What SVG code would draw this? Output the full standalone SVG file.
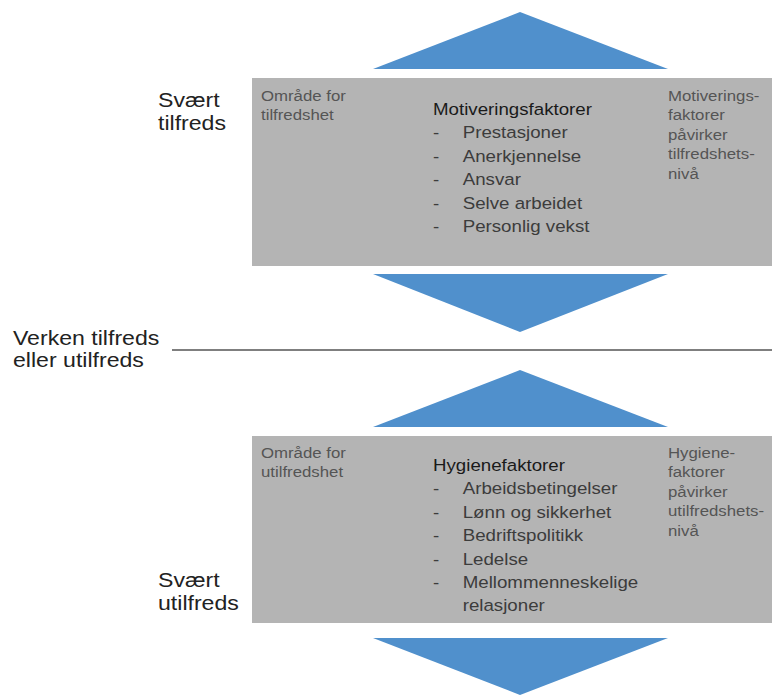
<svg xmlns="http://www.w3.org/2000/svg" width="772" height="695" viewBox="0 0 772 695">
  <style>
    text { font-family: "Liberation Sans", Arial, sans-serif; }
    .box { fill: #b4b4b4; }
    .arrow { fill: #5090cc; }
    .side { font-size: 21px; fill: #222; }
    .small { font-size: 15px; fill: #555; }
    .head { font-size: 17px; fill: #1a1a1a; }
    .item { font-size: 17px; fill: #3c3c3c; }
    .axis { stroke: #555; stroke-width: 1.5; fill: none; }
  </style>
  <rect width="772" height="695" fill="#ffffff"/>

  <g id="arrows">
    <polygon class="arrow" points="520,12 668,69 373,69"/>
    <polygon class="arrow" points="373,274 668,274 520,332"/>
    <polygon class="arrow" points="520,370 668,427 373,427"/>
    <polygon class="arrow" points="373,638 668,638 520,695"/>
  </g>

  <g id="connectors">
    <line class="axis" x1="172" y1="350" x2="772" y2="350"/>
  </g>

  <g id="label-svaert-tilfreds">
    <g transform="translate(158 107) scale(1.1 1)">
      <text class="side" x="0" y="0">Svært</text>
      <text class="side" x="0" y="23">tilfreds</text>
    </g>
  </g>

  <g id="label-verken">
    <g transform="translate(13 345) scale(1.1 1)">
      <text class="side" x="0" y="0">Verken tilfreds</text>
      <text class="side" x="0" y="22">eller utilfreds</text>
    </g>
  </g>

  <g id="label-svaert-utilfreds">
    <g transform="translate(158 587) scale(1.1 1)">
      <text class="side" x="0" y="0">Svært</text>
      <text class="side" x="0" y="23">utilfreds</text>
    </g>
  </g>

  <g id="box-motivering">
    <rect class="box" x="252" y="78" width="520" height="188"/>
    <g transform="translate(261 101) scale(1.12 1)">
      <text class="small" x="0" y="0">Område for</text>
      <text class="small" x="0" y="19">tilfredshet</text>
    </g>
    <g transform="translate(433 115) scale(1.1 1)">
      <text class="head" x="0" y="0">Motiveringsfaktorer</text>
      <text class="item" x="0" y="23.4">-</text><text class="item" x="27" y="23.4">Prestasjoner</text>
      <text class="item" x="0" y="46.8">-</text><text class="item" x="27" y="46.8">Anerkjennelse</text>
      <text class="item" x="0" y="70.2">-</text><text class="item" x="27" y="70.2">Ansvar</text>
      <text class="item" x="0" y="93.6">-</text><text class="item" x="27" y="93.6">Selve arbeidet</text>
      <text class="item" x="0" y="117">-</text><text class="item" x="27" y="117">Personlig vekst</text>
    </g>
    <g transform="translate(668 101) scale(1.12 1)">
      <text class="small" x="0" y="0">Motiverings-</text>
      <text class="small" x="0" y="19.5">faktorer</text>
      <text class="small" x="0" y="39">påvirker</text>
      <text class="small" x="0" y="58.5">tilfredshets-</text>
      <text class="small" x="0" y="78">nivå</text>
    </g>
  </g>

  <g id="box-hygiene">
    <rect class="box" x="252" y="436" width="520" height="187"/>
    <g transform="translate(261 458) scale(1.12 1)">
      <text class="small" x="0" y="0">Område for</text>
      <text class="small" x="0" y="19">utilfredshet</text>
    </g>
    <g transform="translate(433 471) scale(1.1 1)">
      <text class="head" x="0" y="0">Hygienefaktorer</text>
      <text class="item" x="0" y="23.4">-</text><text class="item" x="27" y="23.4">Arbeidsbetingelser</text>
      <text class="item" x="0" y="46.8">-</text><text class="item" x="27" y="46.8">Lønn og sikkerhet</text>
      <text class="item" x="0" y="70.2">-</text><text class="item" x="27" y="70.2">Bedriftspolitikk</text>
      <text class="item" x="0" y="93.6">-</text><text class="item" x="27" y="93.6">Ledelse</text>
      <text class="item" x="0" y="117">-</text><text class="item" x="27" y="117">Mellommenneskelige</text>
      <text class="item" x="27" y="140.4">relasjoner</text>
    </g>
    <g transform="translate(668 458) scale(1.12 1)">
      <text class="small" x="0" y="0">Hygiene-</text>
      <text class="small" x="0" y="19.5">faktorer</text>
      <text class="small" x="0" y="39">påvirker</text>
      <text class="small" x="0" y="58.5">utilfredshets-</text>
      <text class="small" x="0" y="78">nivå</text>
    </g>
  </g>
</svg>
